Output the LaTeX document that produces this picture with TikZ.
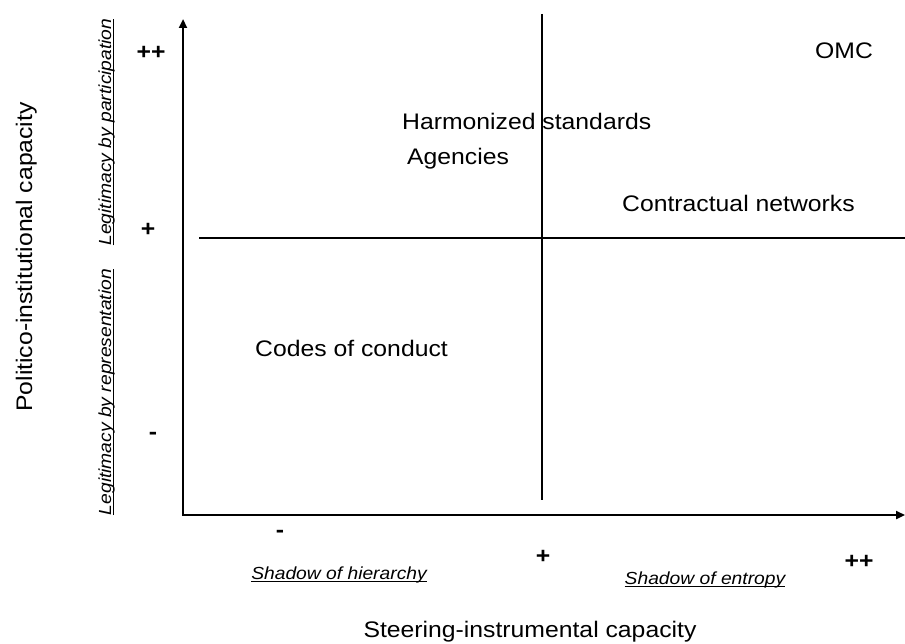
\documentclass[tikz,border=0pt]{standalone}
\usepackage{fontspec}
\setmainfont{Liberation Sans}
\usepackage{graphicx}
\usetikzlibrary{arrows.meta}
\newcommand{\strtxt}[1]{\scalebox{1.1}[1]{#1}}
\newcommand{\ulital}[1]{\setbox0\hbox{\itshape #1}\rlap{\rule[-2.6pt]{\wd0}{1.1pt}}\box0}
\tikzset{
  big/.style={inner sep=0pt, font=\fontsize{22.5}{27}\selectfont},
  sign/.style={inner sep=0pt, font=\fontsize{22.5}{27}\selectfont\bfseries},
  small/.style={inner sep=0pt, font=\fontsize{17.5}{21}\selectfont},
  axis/.style={line width=2.3pt, {Triangle[length=9pt,width=8pt]}-{Triangle[length=9pt,width=8pt]}},
  divider/.style={line width=1.1pt}
}
\begin{document}
\begin{tikzpicture}[x=1pt,y=-1pt]
\useasboundingbox (0,0) rectangle (905,644);
% axes
\coordinate (Ytop) at (183,19);
\coordinate (O) at (183,515);
\coordinate (Xend) at (905,515);
\draw[axis] (Ytop) -- (O) -- (Xend);
% dividers
\coordinate (Vtop) at (542,14);
\coordinate (Vbot) at (542,500);
\coordinate (Hl) at (199,238);
\coordinate (Hr) at (905,238);
\draw[divider] (Vtop) -- (Vbot);
\draw[divider] (Hl) -- (Hr);
% items
\node[big, anchor=base west] (omc) at (815,59) {\strtxt{OMC}};
\node[big, anchor=base west] (harm) at (402,130) {\strtxt{Harmonized standards}};
\node[big, anchor=base west] (agen) at (407,165) {\strtxt{Agencies}};
\node[big, anchor=base west] (contr) at (622,212) {\strtxt{Contractual networks}};
\node[big, anchor=base west] (codes) at (255,356) {\strtxt{Codes of conduct}};
% y scale
\node[sign] (ypp) at (151,53) {\strtxt{++}};
\node[sign] (yp) at (148,230) {\strtxt{+}};
\node[sign] (ym) at (153,436) {\strtxt{-}};
% x scale
\node[sign] (xm) at (280,534) {\strtxt{-}};
\node[sign] (xp) at (543,557) {\strtxt{+}};
\node[sign] (xpp) at (859,562) {\strtxt{++}};
% small labels
\node[small, anchor=base, rotate=90] (lpart) at (111,132) {\strtxt{\ulital{Legitimacy by participation}}};
\node[small, anchor=base, rotate=90] (lrep) at (111,392) {\strtxt{\ulital{Legitimacy by representation}}};
\node[small, anchor=base] (shier) at (339,579) {\strtxt{\ulital{Shadow of hierarchy}}};
\node[small, anchor=base] (sent) at (705,584) {\strtxt{\ulital{Shadow of entropy}}};
% axis titles
\node[big, anchor=base, rotate=90] (ytitle) at (32,257) {\strtxt{Politico-institutional capacity}};
\node[big, anchor=base] (xtitle) at (530,637) {\strtxt{Steering-instrumental capacity}};
\end{tikzpicture}
\end{document}
